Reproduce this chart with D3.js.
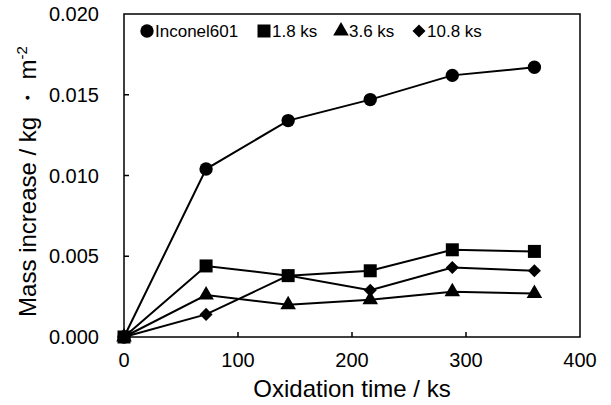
<html>
<head>
<script src="https://d3js.org/d3.v7.min.js"></script>
<style>
  body { margin: 0; background: #fff; }
  svg text { font-family: "Liberation Sans", Arial, sans-serif; fill: #000; }
</style>
</head>
<body>
<script>
// oxidation time (ks)
var times = [0, 72, 144, 216, 288, 360];
// mass increase (kg/m2)
var inconel = [0, 0.0104, 0.0134, 0.0147, 0.0162, 0.0167];
var ks18 = [0, 0.0044, 0.0038, 0.0041, 0.0054, 0.0053];
var ks36 = [0, 0.0026, 0.0020, 0.0023, 0.0028, 0.0027];
var ks108 = [0, 0.0014, 0.0038, 0.0029, 0.0043, 0.0041];
var seriesNames = ["Inconel601", "1.8 ks", "3.6 ks", "10.8 ks"];
var xTicks = [0, 100, 200, 300, 400];
var yTicks = [0, 0.005, 0.010, 0.015, 0.020];

var width = 611, height = 405;
var pLeft = 124, pRight = 580, pTop = 14, pBottom = 337;

var svg = d3.select("body").append("svg")
  .attr("width", width)
  .attr("height", height);

var x = d3.scaleLinear().domain([0, 400]).range([pLeft, pRight]);
var y = d3.scaleLinear().domain([0, 0.020]).range([pBottom, pTop]);

// frame
svg.append("rect")
  .attr("x", pLeft).attr("y", pTop)
  .attr("width", pRight - pLeft).attr("height", pBottom - pTop)
  .attr("fill", "none").attr("stroke", "#000").attr("stroke-width", 1.5);

// ticks pointing inside
svg.selectAll(".xt").data(xTicks.slice(1, 4)).enter().append("line")
  .attr("x1", d => x(d)).attr("x2", d => x(d))
  .attr("y1", pBottom).attr("y2", pBottom - 5)
  .attr("stroke", "#000").attr("stroke-width", 1.5);
svg.selectAll(".yt").data(yTicks.slice(1, 4)).enter().append("line")
  .attr("x1", pLeft).attr("x2", pLeft + 5)
  .attr("y1", d => y(d)).attr("y2", d => y(d))
  .attr("stroke", "#000").attr("stroke-width", 1.5);

svg.selectAll(".xl").data(xTicks).enter().append("text")
  .attr("x", d => x(d)).attr("y", pBottom + 30)
  .attr("text-anchor", "middle")
  .style("font-size", "20px")
  .text(d => d);
svg.selectAll(".yl").data(yTicks).enter().append("text")
  .attr("x", pLeft - 25).attr("y", d => y(d) + 7)
  .attr("text-anchor", "end")
  .style("font-size", "20px")
  .text(d => d3.format(".3f")(d));

svg.append("text")
  .attr("x", x(200)).attr("y", 397)
  .attr("text-anchor", "middle")
  .style("font-size", "24px")
  .text("Oxidation time / ks");

var yt = svg.append("text")
  .attr("transform", "translate(36," + ((pTop + pBottom) / 2 + 6) + ") rotate(-90)")
  .attr("text-anchor", "middle")
  .style("font-size", "24px");
yt.append("tspan").text("Mass increase / kg \u30FB m");
yt.append("tspan").attr("dy", -9).style("font-size", "15px").text("-2");

// markers
var markers = [
  d3.symbol().type(d3.symbolCircle).size(140),
  d3.symbol().type(d3.symbolSquare).size(169),
  d3.symbol().type(d3.symbolTriangle).size(105),
  d3.symbol().type(d3.symbolSquare).size(85)
];
var rot = [0, 0, 0, 45];
var allSeries = [inconel, ks18, ks36, ks108];

var line = d3.line()
  .x((d, i) => x(times[i]))
  .y(d => y(d));

allSeries.forEach(function (vals, s) {
  svg.append("path")
    .attr("d", line(vals))
    .attr("fill", "none").attr("stroke", "#000").attr("stroke-width", 2);
});
allSeries.forEach(function (vals, s) {
  svg.selectAll(".m" + s).data(vals).enter().append("path")
    .attr("d", markers[s])
    .attr("transform", (d, i) => "translate(" + x(times[i]) + "," + y(d) + ") rotate(" + rot[s] + ")")
    .attr("fill", "#000");
});

// legend
var legX = [147, 264, 341, 419];
var leg = svg.selectAll(".leg").data(seriesNames).enter().append("g")
  .attr("transform", (d, i) => "translate(" + legX[i] + ",31)");
leg.append("path")
  .attr("d", (d, i) => markers[i]())
  .attr("transform", (d, i) => "rotate(" + rot[i] + ")")
  .attr("fill", "#000");
leg.append("text")
  .attr("x", 8).attr("y", 6)
  .style("font-size", "17px")
  .text(d => d);
</script>
</body>
</html>
